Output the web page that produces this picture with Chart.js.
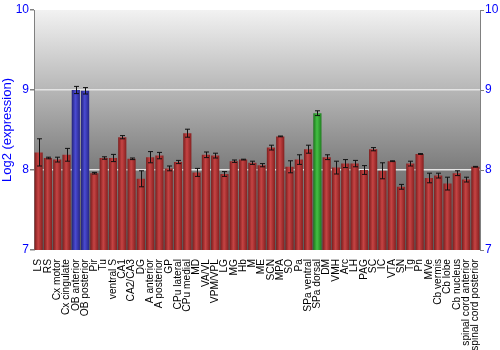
<!DOCTYPE html>
<html>
<head>
<meta charset="utf-8">
<script src="https://cdn.jsdelivr.net/npm/chart.js@4/dist/chart.umd.min.js"></script>
<style>
  html, body { margin: 0; padding: 0; background: #fff; }
  #wrap { width: 500px; height: 350px; }
</style>
</head>
<body>
<div id="wrap"><canvas id="chart"></canvas></div>
<script>
// regions on the x axis
const regions = ['LS', 'RS', 'Cx motor', 'Cx cingulate', 'OB anterior', 'OB posterior', 'Pir', 'Tu',
  'ventral S', 'CA1', 'CA2/CA3', 'DG', 'A anterior', 'A posterior', 'GP', 'CPu lateral', 'CPu medial',
  'MD', 'VA/VL', 'VPM/VPL', 'LG', 'MG', 'Hb', 'M', 'ME', 'SCN', 'MPA', 'SO', 'Pa', 'SPa ventral',
  'SPa dorsal', 'DM', 'VMH', 'Arc', 'LH', 'PAG', 'SC', 'IC', 'VTA', 'SN', 'Tg', 'Pn', 'MVe',
  'Cb vermis', 'Cb lobe', 'Cb nucleus', 'spinal cord anterior', 'spinal cord posterior'];

// log2 expression (mean) and error (+/-)
const expression = [8.22, 8.15, 8.13, 8.19, 9.0, 8.99, 7.96, 8.15,
  8.15, 8.41, 8.14, 7.89, 8.16, 8.18, 8.02, 8.10, 8.46,
  7.97, 8.19, 8.18, 7.95, 8.11, 8.13, 8.09, 8.06, 8.28, 8.42, 8.04, 8.13, 8.26,
  8.71, 8.16, 8.03, 8.08, 8.08, 8.00, 8.26, 7.99, 8.11, 7.79, 8.08, 8.20, 7.90,
  7.93, 7.83, 7.96, 7.88, 8.04];
const errors = [0.17, 0.01, 0.03, 0.08, 0.045, 0.04, 0.01, 0.015,
  0.045, 0.02, 0.01, 0.10, 0.07, 0.04, 0.03, 0.02, 0.05,
  0.05, 0.035, 0.03, 0.03, 0.015, 0.005, 0.02, 0.02, 0.03, 0.005, 0.075, 0.06, 0.05,
  0.03, 0.03, 0.08, 0.05, 0.04, 0.055, 0.02, 0.10, 0.005, 0.03, 0.03, 0.005, 0.06,
  0.03, 0.08, 0.03, 0.03, 0.005];

// which colour each bar gets
const blueBars = ['OB anterior', 'OB posterior'];
const greenBars = ['SPa dorsal'];

const yTicks = [7, 8, 9, 10];

function shadeFor(label) {
  if (blueBars.includes(label)) return ['#22227a', '#4b4bd2', '#262688'];
  if (greenBars.includes(label)) return ['#1c741c', '#44c044', '#1f7e1f'];
  return ['#7c1c1c', '#c64444', '#861f1f'];
}

// grey gradient behind the plot
const backdrop = {
  id: 'backdrop',
  beforeDraw(chart) {
    const { ctx, chartArea: a } = chart;
    const g = ctx.createLinearGradient(0, a.top, 0, a.bottom);
    g.addColorStop(0, '#f2f2f2');
    g.addColorStop(0.65, '#7e7e7e');
    g.addColorStop(1, '#5a5a5a');
    ctx.save();
    ctx.fillStyle = g;
    ctx.fillRect(a.left, a.top, a.right - a.left, a.bottom - a.top);
    ctx.restore();
  }
};

// cylinder look on each bar (options are per bar because backgroundColor is scriptable)
const barShade = {
  id: 'barShade',
  beforeDatasetsDraw(chart) {
    const { ctx } = chart;
    chart.getDatasetMeta(0).data.forEach((bar, i) => {
      const c = shadeFor(regions[i]);
      const half = bar.width / 2;
      const g = ctx.createLinearGradient(bar.x - half, 0, bar.x + half, 0);
      g.addColorStop(0, c[0]);
      g.addColorStop(0.45, c[1]);
      g.addColorStop(1, c[2]);
      bar.options = Object.assign({}, bar.options, { backgroundColor: g });
    });
  }
};

// error bars
const errorBars = {
  id: 'errorBars',
  afterDatasetsDraw(chart) {
    const { ctx, scales } = chart;
    ctx.save();
    ctx.strokeStyle = '#111';
    ctx.lineWidth = 1;
    chart.getDatasetMeta(0).data.forEach((bar, i) => {
      const x = Math.round(bar.x) + 0.5;
      const hi = scales.y.getPixelForValue(expression[i] + errors[i]);
      const lo = scales.y.getPixelForValue(expression[i] - errors[i]);
      ctx.beginPath();
      ctx.moveTo(x, hi); ctx.lineTo(x, lo);
      ctx.moveTo(x - 2.5, hi); ctx.lineTo(x + 2.5, hi);
      ctx.moveTo(x - 2.5, lo); ctx.lineTo(x + 2.5, lo);
      ctx.stroke();
    });
    ctx.restore();
  }
};

const tickFont = { family: 'Liberation Sans, Arial, sans-serif', size: 12 };

new Chart(document.getElementById('chart'), {
  type: 'bar',
  data: {
    labels: regions,
    datasets: [{
      data: expression,
      backgroundColor: c => shadeFor(regions[c.dataIndex])[1],
      borderWidth: 0,
      barPercentage: 0.88,
      categoryPercentage: 1.0
    }]
  },
  options: {
    responsive: true,
    maintainAspectRatio: false,
    animation: false,
    layout: { padding: { top: 10, right: 0, left: 0, bottom: 0 } },
    plugins: { legend: { display: false }, tooltip: { enabled: false } },
    scales: {
      x: {
        grid: { display: false },
        border: { display: false },
        ticks: {
          autoSkip: false,
          minRotation: 90,
          maxRotation: 90,
          color: '#000',
          padding: 1,
          font: { family: 'Liberation Sans, Arial, sans-serif', size: 10.2 }
        },
        afterFit: s => { s.height = 100; }
      },
      y: {
        min: 7,
        max: 10,
        afterBuildTicks: s => { s.ticks = yTicks.map(v => ({ value: v })); },
        grid: {
          color: ctx => (ctx.tick && (ctx.tick.value === 8 || ctx.tick.value === 9)) ? '#e4e4e4' : 'rgba(0,0,0,0)',
          lineWidth: 1.5,
          tickColor: '#808080',
          tickLength: 4
        },
        border: { display: true, color: '#808080', width: 1 },
        ticks: { color: '#0000ff', font: tickFont, padding: 1 },
        title: {
          display: true,
          text: 'Log2 (expression)',
          color: '#0000ff',
          font: { family: 'Liberation Sans, Arial, sans-serif', size: 13 },
          padding: { top: 0, bottom: 0 }
        },
        afterFit: s => { s.width = 34; }
      },
      y2: {
        position: 'right',
        min: 7,
        max: 10,
        afterBuildTicks: s => { s.ticks = yTicks.map(v => ({ value: v })); },
        grid: { drawOnChartArea: false, tickColor: '#808080', tickLength: 4 },
        border: { display: true, color: '#808080', width: 1 },
        ticks: { color: '#0000ff', font: tickFont, padding: 1 },
        afterFit: s => { s.width = 20; }
      }
    }
  },
  plugins: [backdrop, barShade, errorBars]
});
</script>
</body>
</html>
